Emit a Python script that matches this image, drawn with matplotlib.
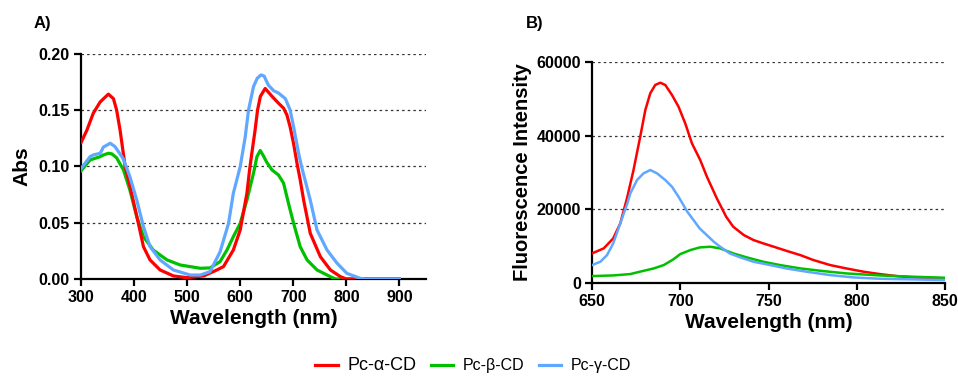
import matplotlib
matplotlib.use("Agg")
import matplotlib.pyplot as plt
from matplotlib.lines import Line2D

plt.rcParams['font.family'] = ['Liberation Sans', 'DejaVu Sans']

# ---- Panel A: absorption ----
abs_red_x = [300, 311, 323, 336, 351.5, 361, 367, 373.6, 383, 392, 400, 408, 417.6, 430, 449, 474, 499, 531, 556, 568.5, 587, 600, 612.6, 617.6, 622, 628, 632.7, 638, 647, 660, 672, 681.7, 688, 694, 700.6, 707, 713, 719.5, 732, 751, 770, 789, 800, 900]
abs_red_y = [0.121, 0.132, 0.147, 0.157, 0.164, 0.160, 0.150, 0.132, 0.100, 0.083, 0.066, 0.0494, 0.0287, 0.0169, 0.008, 0.0027, 0.0012, 0.0027, 0.008, 0.011, 0.0257, 0.0435, 0.076, 0.0967, 0.112, 0.132, 0.150, 0.162, 0.169, 0.162, 0.156, 0.1515, 0.1455, 0.135, 0.120, 0.1027, 0.088, 0.070, 0.0405, 0.0198, 0.008, 0.002, 0.0, 0.0]

abs_green_x = [300, 317, 336, 342, 351.5, 358, 367, 380, 392, 405, 417.6, 436, 462, 487, 524.5, 543, 562, 575, 587, 600, 612.6, 625, 631.5, 637.7, 644, 650, 660, 672, 681.7, 691, 700.6, 713, 726, 744.7, 770, 780, 900]
abs_green_y = [0.096, 0.1056, 0.1085, 0.110, 0.1115, 0.111, 0.1075, 0.0967, 0.079, 0.0553, 0.0375, 0.0257, 0.0169, 0.0124, 0.0095, 0.0098, 0.0154, 0.0257, 0.0375, 0.0494, 0.070, 0.0938, 0.1085, 0.114, 0.109, 0.1035, 0.0967, 0.0923, 0.085, 0.067, 0.0494, 0.0287, 0.0169, 0.008, 0.002, 0.0, 0.0]

abs_blue_x = [300, 317, 323, 336, 339, 342, 355, 364, 377, 380, 392, 405, 417.6, 430, 449, 474, 505.7, 525, 543, 562, 578, 587, 600, 609.4, 615.7, 625, 632, 639, 645, 653, 663, 672, 685, 694, 700.6, 710, 716, 732, 744.7, 763.6, 782.5, 801, 826, 835, 900]
abs_blue_y = [0.098, 0.1085, 0.110, 0.1115, 0.114, 0.117, 0.1204, 0.1174, 0.1085, 0.106, 0.0908, 0.070, 0.0464, 0.0287, 0.0169, 0.008, 0.0035, 0.0035, 0.0065, 0.024, 0.0494, 0.076, 0.0997, 0.126, 0.150, 0.1706, 0.178, 0.181, 0.180, 0.172, 0.167, 0.165, 0.160, 0.150, 0.135, 0.1115, 0.099, 0.070, 0.0435, 0.0257, 0.014, 0.005, 0.0006, 0.0, 0.0]

# ---- Panel B: fluorescence ----
fl_red_x = [650, 656.6, 662, 666, 669.8, 673.5, 677.3, 680.2, 683, 685.8, 688.7, 691.5, 695.3, 699, 702.8, 706.6, 711.3, 715.1, 720.7, 726, 730, 736, 741.5, 747, 753, 760, 768, 775.5, 785, 794, 804, 813, 822.6, 832, 850]
fl_red_y = [7980, 9340, 12050, 16130, 22950, 30640, 39700, 46960, 51500, 53760, 54380, 53760, 51040, 47860, 43340, 37900, 33360, 28820, 22950, 17950, 15230, 12960, 11600, 10700, 9790, 8700, 7520, 6160, 4800, 3900, 2990, 2360, 1810, 1450, 1180]

fl_green_x = [650, 662, 671.7, 677, 685, 690.6, 696, 700, 705.7, 711, 717, 722.6, 730, 737.7, 747, 756.6, 768, 781, 794, 813, 832, 850]
fl_green_y = [1810, 1990, 2360, 2990, 3900, 4800, 6340, 7790, 8880, 9600, 9790, 9340, 7980, 6890, 5710, 4800, 3900, 3170, 2540, 1990, 1630, 1360]

fl_blue_x = [650, 654.7, 658.5, 662, 666, 670, 671.7, 675.5, 679.2, 683, 686.8, 691.5, 695.3, 699, 704, 707.5, 711, 715, 719, 722.6, 728, 734, 741.5, 751, 760, 771.7, 785, 798, 813, 832, 850]
fl_blue_y = [4800, 5710, 7520, 10700, 16130, 21570, 24300, 27920, 29750, 30640, 29750, 27920, 26100, 23380, 19300, 17040, 14770, 12960, 11150, 9790, 7980, 6890, 5710, 4800, 3900, 2990, 2080, 1450, 1090, 906, 725]

series_labels = ['Pc-\u03b1-CD', 'Pc-\u03b2-CD', 'Pc-\u03b3-CD']
colors = ['#FF0000', '#00C000', '#60A8FF']

abs_xticks = [300, 400, 500, 600, 700, 800, 900]
abs_yticks = [0.00, 0.05, 0.10, 0.15, 0.20]
fl_xticks = [650, 700, 750, 800, 850]
fl_yticks = [0, 20000, 40000, 60000]

fig = plt.figure(figsize=(9.58, 3.77), dpi=100)
axA = fig.add_axes([0.0846, 0.260, 0.360, 0.598])
axB = fig.add_axes([0.618, 0.250, 0.3684, 0.5855])

def style(ax):
    for s in ['top', 'right']:
        ax.spines[s].set_visible(False)
    for s in ['left', 'bottom']:
        ax.spines[s].set_linewidth(1.6)
        ax.spines[s].set_color('black')
    ax.tick_params(direction='out', width=1.6, length=5, labelsize=11.5, pad=3)
    for lab in ax.get_xticklabels() + ax.get_yticklabels():
        lab.set_fontweight('bold')
    ax.yaxis.grid(True, linestyle=(0, (2, 2.5)), color='#333333', linewidth=0.9)
    ax.set_axisbelow(True)

# Panel A
axA.plot(abs_green_x, abs_green_y, color=colors[1], lw=2.3, zorder=3, solid_joinstyle='round')
axA.plot(abs_blue_x, abs_blue_y, color=colors[2], lw=2.3, zorder=4, solid_joinstyle='round')
axA.plot(abs_red_x, abs_red_y, color=colors[0], lw=2.3, zorder=3, solid_joinstyle='round')
axA.set_xlim(300, 950)
axA.set_ylim(0, 0.2)
axA.set_xticks(abs_xticks)
axA.set_yticks(abs_yticks)
axA.set_yticklabels(['%.2f' % v for v in abs_yticks])
style(axA)
axA.set_xlabel('Wavelength (nm)', fontsize=15, fontweight='bold', labelpad=3)
axA.set_ylabel('Abs', fontsize=15, fontweight='bold', labelpad=5)
fig.text(0.035, 0.925, 'A)', fontsize=12, fontweight='bold')

# Panel B
axB.plot(fl_red_x, fl_red_y, color=colors[0], lw=1.8, zorder=3, solid_joinstyle='round')
axB.plot(fl_green_x, fl_green_y, color=colors[1], lw=1.8, zorder=3, solid_joinstyle='round')
axB.plot(fl_blue_x, fl_blue_y, color=colors[2], lw=1.8, zorder=4, solid_joinstyle='round')
axB.set_xlim(650, 850)
axB.set_ylim(0, 60000)
axB.set_xticks(fl_xticks)
axB.set_yticks(fl_yticks)
style(axB)
axB.set_xlabel('Wavelength (nm)', fontsize=15, fontweight='bold', labelpad=3)
axB.set_ylabel('Fluorescence Intensity', fontsize=14.5, fontweight='bold', labelpad=3)
fig.text(0.549, 0.925, 'B)', fontsize=12, fontweight='bold')

handles = [Line2D([0], [0], color=c, lw=2.3) for c in colors]
leg = fig.legend(handles, series_labels, loc='center', ncol=3, frameon=False,
                 bbox_to_anchor=(0.494, 0.03), fontsize=11.5, handlelength=1.4,
                 columnspacing=0.9, handletextpad=0.6)
leg.get_texts()[0].set_fontsize(13)

fig.savefig('out.png', dpi=100)
